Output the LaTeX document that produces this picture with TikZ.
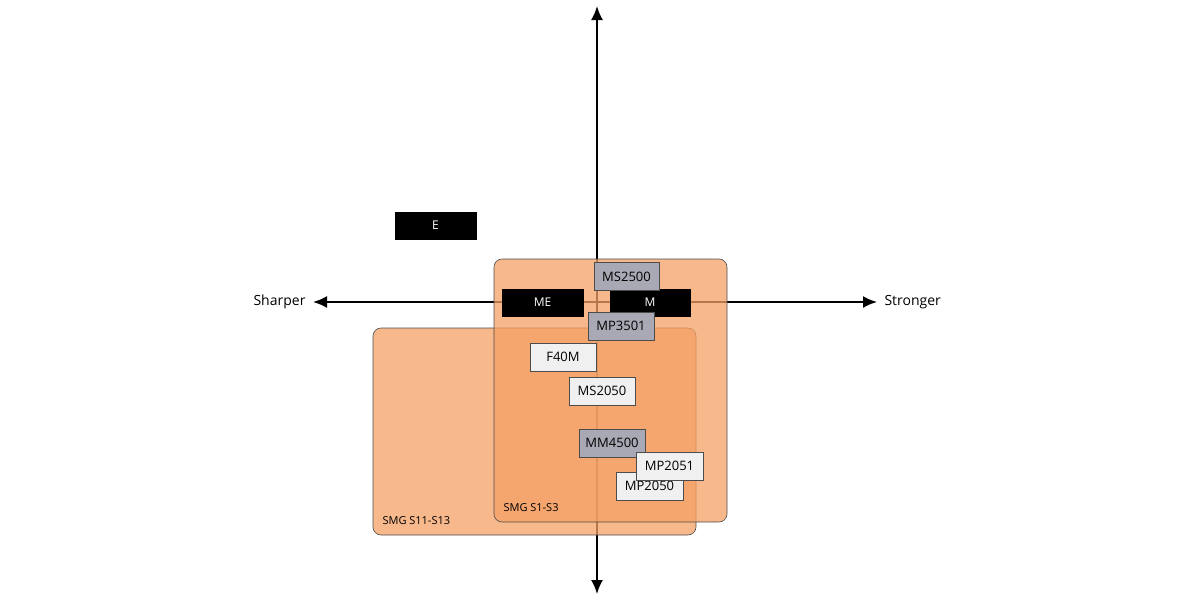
\documentclass[tikz,border=0pt]{standalone}
\usepackage{fontspec}
\setmainfont{Open Sans}
\usetikzlibrary{arrows.meta}
\definecolor{smg}{HTML}{F4A064}
\definecolor{gbox}{HTML}{A9A9B5}
\definecolor{lbox}{HTML}{F0F0F0}
\begin{document}
\begin{tikzpicture}[x=1pt,y=-1pt,
  region/.style={draw=black!70,line width=0.6pt,fill=smg,fill opacity=0.75,rounded corners=8pt},
  blk/.style={fill=black,text=white,draw=black,minimum height=27pt,font=\fontsize{12}{14}\selectfont,inner sep=0pt},
  gry/.style={fill=gbox,draw=black!70,minimum height=28pt,font=\fontsize{13}{15}\selectfont,inner sep=0pt},
  lgt/.style={fill=lbox,draw=black!70,minimum height=28pt,font=\fontsize{13}{15}\selectfont,inner sep=0pt},
  ax/.style={line width=2pt,-{Latex[length=14pt,width=12pt]}},
  lab/.style={font=\fontsize{11}{13}\selectfont}]
\useasboundingbox (0,0) rectangle (1200,600);
\coordinate (o) at (597,302);
\coordinate (l) at (313,302);
\coordinate (r) at (877,302);
\coordinate (t) at (597,6);
\coordinate (b) at (597,594);
\draw[ax] (o) -- (l);
\draw[ax] (o) -- (r);
\draw[ax] (o) -- (t);
\draw[ax] (o) -- (b);
\node[anchor=east,font=\fontsize{14}{16}\selectfont] (sh) at (309,302) {Sharper};
\node[anchor=west,font=\fontsize{14}{16}\selectfont] (st) at (881,302) {Stronger};
\node[blk,minimum width=81pt] (E) at (435.5,225.5) {E};
\draw[region] (373,328) rectangle (696,535);
\draw[region] (494,259) rectangle (727,522);
\node[lab,anchor=west] (s11) at (379,521) {SMG S11-S13};
\node[lab,anchor=west] (s1) at (500,508) {SMG S1-S3};
\node[blk,minimum width=81pt] (ME) at (542.5,302.5) {ME};
\node[blk,minimum width=80pt] (M) at (650,302.5) {M};
\node[gry,minimum width=65pt] (MS2500) at (626.5,276.5) {MS2500};
\node[gry,minimum width=66pt] (MP3501) at (621,326) {MP3501};
\node[lgt,minimum width=66pt] (F40M) at (563,357) {F40M};
\node[lgt,minimum width=66pt] (MS2050) at (602,391) {MS2050};
\node[gry,minimum width=66pt] (MM4500) at (612,443) {MM4500};
\node[lgt,minimum width=67pt] (MP2050) at (649.5,486) {MP2050};
\node[lgt,minimum width=67pt] (MP2051) at (669.5,466) {MP2051};
\end{tikzpicture}
\end{document}
